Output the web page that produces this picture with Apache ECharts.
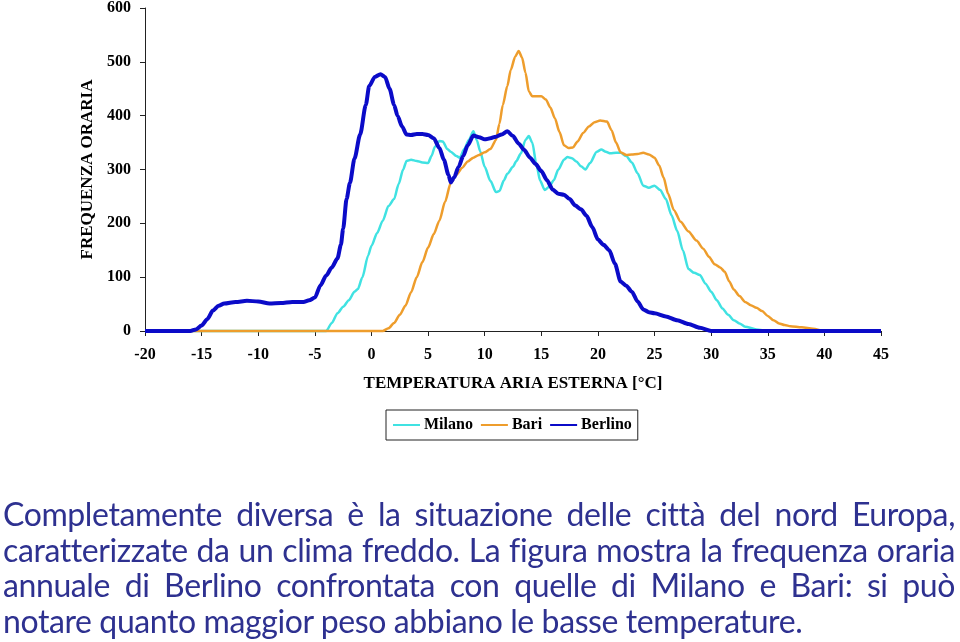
<!DOCTYPE html>
<html>
<head>
<meta charset="utf-8">
<script src="https://cdn.jsdelivr.net/npm/echarts@6/dist/echarts.min.js"></script>
<style>
html,body{margin:0;padding:0;background:#fff;}
#chart{position:absolute;left:0;top:0;width:960px;height:642px;}
#para{position:absolute;left:3px;top:496px;width:952px;font-family:Lato,'Open Sans',sans-serif;font-size:32px;letter-spacing:-0.4px;line-height:35.7px;color:#2e3190;}
#para div{text-align:justify;text-align-last:justify;white-space:normal;}
#para div.last{text-align-last:left;}
</style>
</head>
<body>
<div id="chart"></div>
<div id="para"></div>
<script>
// ---- data ----
const seriesNames = ['Milano', 'Bari', 'Berlino'];
const xTicksMin = -20, xTicksMax = 45;

const milanoTemp = [-20,-4,-3.5,-3,-2.5,-2,-1.5,-1.2,-0.8,-0.3,0,0.5,1,1.5,2,2.4,2.8,3.1,3.5,4,4.5,5,5.3,5.6,6,6.3,6.7,7,7.5,7.8,8.2,8.6,9,9.3,9.6,10,10.5,11,11.3,11.7,12,12.5,12.8,13.2,13.6,13.9,14.2,14.6,14.9,15.3,15.7,16.1,16.5,17,17.3,17.7,18.1,18.5,18.9,19.3,19.9,20.3,20.7,21.1,21.6,22,22.5,23,23.5,24,24.5,25,25.5,26,26.5,27,27.5,28,28.5,29,29.5,30,30.5,31,31.5,32,32.5,33,34,35,45];
const milanoFreq = [0,0,15,33,45,57,73,78,100,140,158,182,205,232,245,273,300,316,318,316,313,312,325,342,353,352,338,333,325,322,338,355,371,355,334,305,279,258,260,280,292,305,316,330,355,362,350,305,279,262,268,280,300,318,323,321,315,306,300,312,333,337,333,330,331,331,325,313,293,270,266,270,262,245,215,186,150,115,108,104,88,73,57,42,30,20,14,8,3,0,0];

const bariTemp = [-20,1,1.5,2,2.5,3,3.5,4,4.5,5,5.5,6,6.5,7,7.5,8,8.5,9,9.5,10,10.5,11,11.3,11.6,12,12.3,12.7,13,13.3,13.6,13.9,14.2,14.6,15,15.4,15.8,16.2,16.6,17,17.4,17.8,18.2,18.7,19.2,19.7,20.2,20.8,21.2,21.6,22,22.5,23,23.5,24,24.5,25,25.4,25.8,26.2,26.7,27.3,28,28.7,29.3,29.8,30.3,30.8,31.2,31.6,32,32.5,33,33.5,34,34.5,35,35.5,36,36.5,37,38,39,40,45];
const bariFreq = [0,0,5,15,30,47,72,100,128,155,180,205,240,275,290,303,315,322,327,332,338,355,385,420,455,485,510,520,508,480,445,436,436,436,430,415,395,370,345,340,341,352,368,380,388,391,389,373,350,332,327,328,329,331,328,322,308,285,255,225,203,185,168,153,138,124,118,110,92,77,65,54,48,43,37,28,20,14,11,9,7,4,0,0];

const berlinoTemp = [-20,-16,-15.5,-15,-14.5,-14,-13.5,-13,-12,-11,-10,-9,-8,-7,-6,-5.5,-5,-4.5,-4,-3.5,-3,-2.7,-2.5,-2.2,-1.9,-1.5,-1,-0.5,-0.2,0.3,0.8,1.2,1.6,2,2.3,2.7,3.1,3.5,4,4.5,5,5.5,6,6.4,6.8,7,7.3,7.7,8.1,8.5,9,9.5,10,10.5,11,11.5,12,12.5,13,13.5,14,14.5,15,15.5,16,16.5,17,17.5,18,18.5,19,19.5,20,20.5,21,21.5,22,22.5,23,23.5,24,24.5,25,26,27,28,29,30,45];
const berlinoFreq = [0,0,3,10,22,38,47,51,54,56,55,51,52,54,54,57,62,85,103,118,135,160,190,245,275,320,365,420,455,472,477,472,450,420,400,380,365,364,366,366,364,358,340,318,290,276,285,305,325,345,363,360,356,358,361,365,371,362,348,336,322,310,297,280,263,255,253,245,233,226,214,193,170,160,150,125,92,84,73,55,40,35,33,27,20,13,6,0,0];

const seriesColors = ['#40e2e2', '#ee9d2c', '#0b0bc8'];
const seriesWidths = [2.5, 2.5, 4];

const yAxisTitle = 'FREQUENZA ORARIA';
const xAxisTitle = 'TEMPERATURA ARIA ESTERNA [°C]';

const paragraphLines = [
  'Completamente diversa è la situazione delle città del nord Europa,',
  'caratterizzate da un clima freddo. La figura mostra la frequenza oraria',
  'annuale di Berlino confrontata con quelle di Milano e Bari: si può',
  'notare quanto maggior peso abbiano le basse temperature.'
];

// ---- build ----
function pairs(t, v){ return t.map((x,i)=>[x, v[i]]); }
const allData = [pairs(milanoTemp, milanoFreq), pairs(bariTemp, bariFreq), pairs(berlinoTemp, berlinoFreq)];

const serif = "'Liberation Serif','DejaVu Serif',serif";
const chart = echarts.init(document.getElementById('chart'), null, {renderer:'canvas'});
chart.setOption({
  animation:false,
  backgroundColor:'#ffffff',
  grid:{left:145, right:79, top:6, bottom:311, containLabel:false},
  legend:{
    left:386, top:410,
    data:seriesNames,
    itemWidth:27, itemHeight:14, itemGap:7,
    padding:[7,6,7,6],
    borderColor:'#222', borderWidth:1,
    itemStyle:{opacity:0},
    textStyle:{fontFamily:serif, fontWeight:'bold', fontSize:16, color:'#000', padding:[0,0,0,-1]}
  },
  xAxis:{
    type:'value', min:xTicksMin, max:xTicksMax, interval:5,
    name:xAxisTitle, nameLocation:'middle', nameGap:44,
    nameTextStyle:{fontFamily:serif, fontWeight:'bold', fontSize:17, color:'#000'},
    axisLine:{onZero:false, lineStyle:{color:'#222', width:1}},
    axisTick:{show:true, inside:false, length:5, lineStyle:{color:'#222'}},
    axisLabel:{margin:16, fontFamily:serif, fontWeight:'bold', fontSize:16, color:'#000'},
    splitLine:{show:false}
  },
  yAxis:{
    type:'value', min:0, max:600, interval:100,
    name:yAxisTitle, nameLocation:'middle', nameGap:49, nameRotate:90,
    nameTextStyle:{fontFamily:serif, fontWeight:'bold', fontSize:17, color:'#000'},
    axisLine:{show:true, onZero:false, lineStyle:{color:'#222', width:1}},
    axisTick:{show:true, length:5, lineStyle:{color:'#222'}},
    axisLabel:{margin:14, fontFamily:serif, fontWeight:'bold', fontSize:16, color:'#000'},
    splitLine:{show:false}
  },
  series: seriesNames.map((n,i)=>({
    name:n, type:'line', data:allData[i],
    symbol:'none', smooth:0.25, smoothMonotone:'x',
    clip:false,
    color:seriesColors[i],
    lineStyle:{color:seriesColors[i], width:seriesWidths[i]},
    z:2+i
  }))
});

const para = document.getElementById('para');
paragraphLines.forEach((t,i)=>{
  const d = document.createElement('div');
  d.textContent = t;
  if(i === paragraphLines.length-1) d.className = 'last';
  para.appendChild(d);
});
</script>
</body>
</html>
